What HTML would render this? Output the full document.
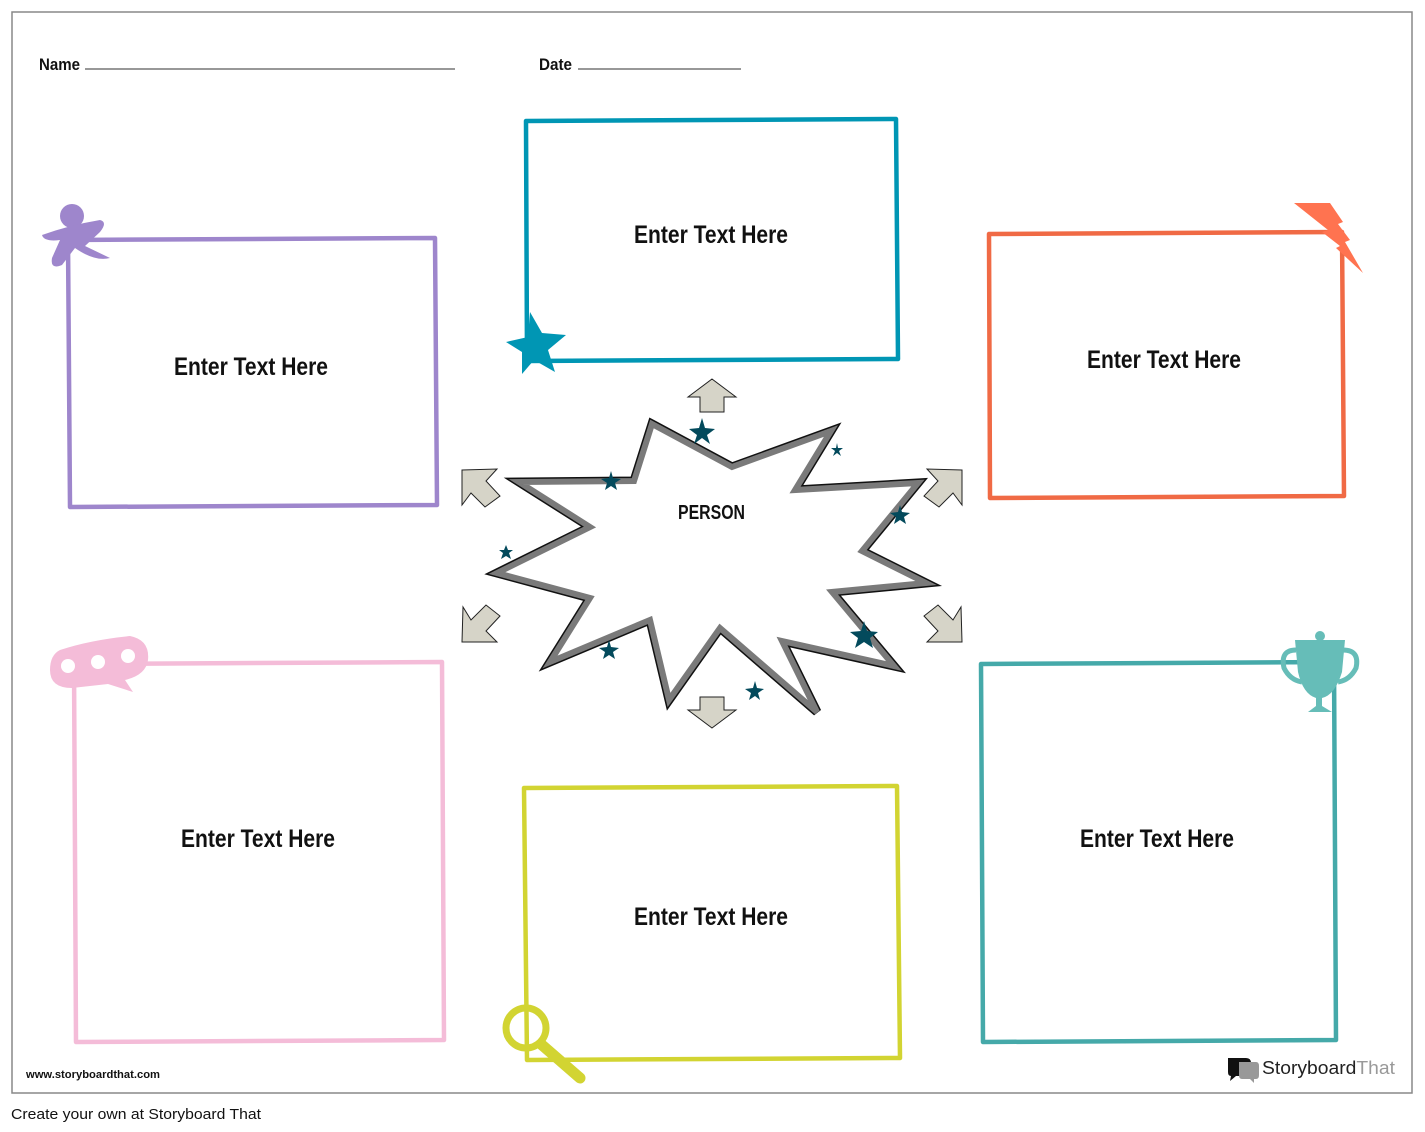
<!DOCTYPE html>
<html><head><meta charset="utf-8"><style>
html,body{margin:0;padding:0;background:#fff;}
svg{display:block;}
text{font-family:"Liberation Sans",sans-serif;}
</style></head><body>
<svg width="1425" height="1132" viewBox="0 0 1425 1132" xmlns="http://www.w3.org/2000/svg">
<rect x="12" y="12" width="1400" height="1081" fill="#fff" stroke="#888" stroke-width="1.5"/>
<text x="39" y="70" font-size="17" font-weight="bold" fill="#111" textLength="41" lengthAdjust="spacingAndGlyphs">Name</text>
<line x1="85" y1="69" x2="455" y2="69" stroke="#777" stroke-width="1.5"/>
<text x="539" y="70" font-size="17" font-weight="bold" fill="#111" textLength="33" lengthAdjust="spacingAndGlyphs">Date</text>
<line x1="578" y1="69" x2="741" y2="69" stroke="#777" stroke-width="1.5"/>

<g fill="none" stroke-width="4.5" stroke-linejoin="round">
<path d="M68,240 L435,238 L437,505 L70,507 Z" stroke="#9e86cc"/>
<path d="M526,121 L896,119 L898,359 L527,361 Z" stroke="#0096b4"/>
<path d="M989,234 L1342,232 L1344,496 L990,498 Z" stroke="#f06a45"/>
<path d="M74,664 L442,662 L444,1040 L76,1042 Z" stroke="#f4bcd8"/>
<path d="M524,788 L897,786 L900,1058 L527,1060 Z" stroke="#d2d432"/>
<path d="M981,664 L1334,662 L1336,1040 L983,1042 Z" stroke="#45a9a9"/>
</g>

<g font-size="25" font-weight="bold" fill="#111">
<text x="174" y="375" textLength="154" lengthAdjust="spacingAndGlyphs">Enter Text Here</text>
<text x="634" y="243" textLength="154" lengthAdjust="spacingAndGlyphs">Enter Text Here</text>
<text x="1087" y="368" textLength="154" lengthAdjust="spacingAndGlyphs">Enter Text Here</text>
<text x="181" y="847" textLength="154" lengthAdjust="spacingAndGlyphs">Enter Text Here</text>
<text x="634" y="925" textLength="154" lengthAdjust="spacingAndGlyphs">Enter Text Here</text>
<text x="1080" y="847" textLength="154" lengthAdjust="spacingAndGlyphs">Enter Text Here</text>
</g>

<!-- purple person -->
<g fill="#9e86cc">
<circle cx="72" cy="216" r="12"/>
<path d="M42,235 Q70,225 100,220 Q108,222 100,232 L85,246 L110,258 Q95,262 75,248 L62,265 Q50,270 52,258 L60,240 Q44,242 42,235 Z"/>
</g>
<polygon fill="#0096b4" points="530,312 542,333 566,335 548,350 555,372 534,360 522,374 522,352 506,342 528,337"/>
<polygon fill="#ff7350" points="1294,203 1330,203 1343,222 1338,224 1350,240 1345,242 1363,273 1336,248 1340,246 1322,232 1328,230"/>
<g>
<path d="M60,650 Q90,640 130,636 Q150,640 148,660 Q146,675 125,680 L133,692 L108,684 L72,688 Q50,688 50,670 Q50,655 60,650 Z" fill="#f4bcd8"/>
<circle cx="68" cy="666" r="7" fill="#fff"/>
<circle cx="98" cy="662" r="7" fill="#fff"/>
<circle cx="128" cy="656" r="7" fill="#fff"/>
</g>
<g stroke="#d2d432" fill="none">
<circle cx="526" cy="1028" r="20" stroke-width="7"/>
<line x1="542" y1="1045" x2="580" y2="1078" stroke-width="11" stroke-linecap="round"/>
</g>
<g fill="#66bdb8">
<path d="M1295,640 L1345,640 L1342,672 Q1335,695 1322,698 L1322,706 L1332,712 L1308,712 L1316,706 L1316,698 Q1303,694 1298,672 Z"/>
<circle cx="1320" cy="636" r="5"/>
<path d="M1296,650 Q1280,650 1284,668 Q1290,680 1302,682" fill="none" stroke="#66bdb8" stroke-width="5"/>
<path d="M1343,650 Q1360,650 1356,668 Q1350,680 1338,682" fill="none" stroke="#66bdb8" stroke-width="5"/>
</g>

<polygon points="652,424 732,467 831,431 795,490 918,483 862,551 926,583 832,592 894,666 782,641 817,712 720,628 669,700 650,620 550,662 590,598 497,573 590,527 519,482 634,481" fill="#fff" stroke="#111" stroke-width="9" stroke-linejoin="miter"/>
<polygon points="652,424 732,467 831,431 795,490 918,483 862,551 926,583 832,592 894,666 782,641 817,712 720,628 669,700 650,620 550,662 590,598 497,573 590,527 519,482 634,481" fill="#fff" stroke="#7a7a7a" stroke-width="6" stroke-linejoin="miter"/>
<text x="678" y="519" font-size="20" font-weight="bold" fill="#111" textLength="67" lengthAdjust="spacingAndGlyphs">PERSON</text>

<g fill="#034a5c">
<polygon points="702,418 705,428 715,429 707,435 710,444 702,438 694,444 697,435 689,429 699,428"/>
<polygon points="837,443 838,448 843,448 839,451 841,456 837,453 833,456 835,451 831,448 836,448"/>
<polygon points="611,471 613,478 621,479 615,483 617,490 611,486 605,490 607,483 601,479 609,478"/>
<polygon points="506,545 508,550 513,550 509,553 511,559 506,556 501,559 503,553 499,550 504,550"/>
<polygon points="900,505 902,512 910,513 904,517 906,524 900,520 894,524 896,517 890,513 898,512"/>
<polygon points="864,621 867,631 878,632 870,638 873,648 864,642 855,648 858,638 850,632 861,631"/>
<polygon points="609,640 611,647 619,648 613,652 615,659 609,655 603,659 605,652 599,648 607,647"/>
<polygon points="755,681 757,688 764,689 758,693 760,700 755,696 749,700 751,693 745,689 753,688"/>
</g>

<g fill="#d6d4c8" stroke="#222" stroke-width="1">
<polygon points="712,379 736,397 724,397 724,412 700,412 700,397 688,397"/>
<polygon points="712,728 736,710 724,710 724,697 700,697 700,710 688,710"/>
<polygon points="462,470 497,469 486,481 500,496 485,507 471,493 462,505"/>
<polygon points="962,470 927,469 938,481 924,496 939,507 953,493 962,505"/>
<polygon points="462,642 497,642 486,631 500,616 486,605 471,620 463,607"/>
<polygon points="962,642 927,642 938,631 924,616 938,605 953,620 961,607"/>
</g>

<text x="26" y="1078" font-size="11" font-weight="bold" fill="#111" textLength="134" lengthAdjust="spacingAndGlyphs">www.storyboardthat.com</text>
<g>
<path d="M1228,1058 L1246,1058 Q1251,1058 1251,1063 L1251,1072 Q1251,1076 1246,1076 L1236,1076 L1230,1081 L1231,1076 Q1228,1076 1228,1072 Z" fill="#111"/>
<path d="M1239,1062 L1256,1062 Q1259,1062 1259,1066 L1259,1075 Q1259,1079 1256,1079 L1254,1079 L1254,1083 L1250,1079 L1242,1079 Q1239,1079 1239,1075 Z" fill="#999"/>
</g>
<text x="1262" y="1074" font-size="18" fill="#222" textLength="133" lengthAdjust="spacingAndGlyphs">Storyboard<tspan fill="#999">That</tspan></text>
<text x="11" y="1119" font-size="15" fill="#111" textLength="250" lengthAdjust="spacingAndGlyphs">Create your own at Storyboard That</text>
</svg>
</body></html>
